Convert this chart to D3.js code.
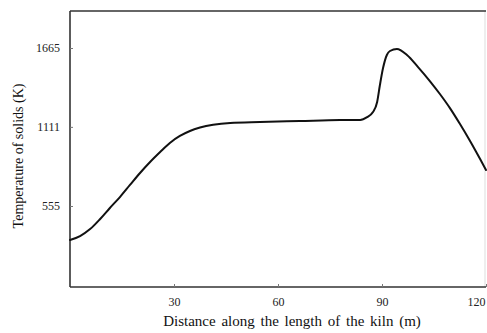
<!DOCTYPE html>
<html>
<head>
<meta charset="utf-8">
<script src="https://cdn.jsdelivr.net/npm/d3@7"></script>
<style>
  html, body { margin: 0; padding: 0; background: #fff; }
  svg { display: block; font-family: "Liberation Serif", "Times New Roman", serif; }
</style>
</head>
<body>
<svg id="chart" width="487" height="333"></svg>
<script>
// Solids temperature profile along the kiln
const distance = [0, 2.9, 5.8, 8.7, 11.5, 14.4, 17.3, 20.2, 23.1, 26.0, 28.8, 31.7, 34.6, 37.5, 46.2, 54.8, 66.3, 77.9, 83.7, 85.7, 87.4, 88.6, 89.4, 90.3, 91.4, 92.3, 94.3, 97.2, 100.4, 103.8, 106.7, 109.6, 112.5, 115.4, 118.3, 120];
const temperature = [316, 344, 393, 464, 541, 618, 703, 787, 864, 934, 998, 1047, 1082, 1106, 1138, 1145, 1152, 1159, 1160, 1180, 1215, 1286, 1405, 1524, 1616, 1644, 1658, 1616, 1531, 1433, 1342, 1243, 1131, 1012, 885, 808];
const xTicks = [30, 60, 90, 120];
const yTicks = [555, 1111, 1665];

const svg = d3.select("#chart");
const plot = { left: 70, right: 486, top: 11, bottom: 287 };

const x = d3.scaleLinear().domain([0, 120]).range([plot.left, plot.right]);
const y = d3.scaleLinear().domain([-14, 1925]).range([plot.bottom, plot.top]);

const frame = "#333";
const serif = "Liberation Serif, Times New Roman, serif";

// Faint right edge of the frame
svg.append("line").attr("x1", 485).attr("x2", 485).attr("y1", plot.top).attr("y2", plot.bottom)
  .attr("stroke", "#ddd").attr("stroke-width", 1);

// Axes frame: left, top, bottom
svg.append("line").attr("x1", plot.left).attr("x2", plot.left).attr("y1", plot.top).attr("y2", plot.bottom)
  .attr("stroke", frame).attr("stroke-width", 1.6);
svg.append("line").attr("x1", plot.left).attr("x2", plot.right).attr("y1", plot.top).attr("y2", plot.top)
  .attr("stroke", frame).attr("stroke-width", 1.6);
svg.append("line").attr("x1", plot.left).attr("x2", plot.right).attr("y1", plot.bottom).attr("y2", plot.bottom)
  .attr("stroke", frame).attr("stroke-width", 1.6);

// Bottom axis with inward ticks
const xAxis = d3.axisBottom(x).tickValues(xTicks).tickSize(-3).tickPadding(10).tickFormat(d3.format("d"));
const gx = svg.append("g").attr("transform", `translate(0,${plot.bottom})`).call(xAxis);
gx.attr("font-family", serif);
gx.select(".domain").remove();
gx.selectAll("line").attr("stroke", "#777");
gx.selectAll("text").attr("font-family", serif).attr("font-size", 12).attr("fill", "#222")
  .attr("text-anchor", d => d === 120 ? "end" : "middle")
  .attr("x", d => d === 120 ? -1 : 0);

// Left axis with inward ticks
const yAxis = d3.axisLeft(y).tickValues(yTicks).tickSize(-3).tickPadding(10).tickFormat(d3.format("d"));
const gy = svg.append("g").attr("transform", `translate(${plot.left},0)`).call(yAxis);
gy.attr("font-family", serif);
gy.select(".domain").remove();
gy.selectAll("line").attr("stroke", "#777");
gy.selectAll("text").attr("font-family", serif).attr("font-size", 12).attr("fill", "#222");

// Temperature curve
const pts = distance.map((d, i) => [d, temperature[i]]);
const line = d3.line().x(d => x(d[0])).y(d => y(d[1])).curve(d3.curveMonotoneX);
svg.append("path").datum(pts).attr("d", line)
  .attr("fill", "none").attr("stroke", "#111").attr("stroke-width", 2)
  .attr("stroke-linejoin", "round").attr("stroke-linecap", "round");

// Axis titles
svg.append("text").attr("x", 292).attr("y", 326).attr("text-anchor", "middle")
  .attr("font-family", serif).attr("font-size", 15).attr("fill", "#111").attr("word-spacing", 2)
  .text("Distance  along  the length  of the kiln  (m)");
svg.append("text").attr("transform", "translate(23,156) rotate(-90)").attr("text-anchor", "middle")
  .attr("font-family", serif).attr("font-size", 14).attr("fill", "#111")
  .text("Temperature  of solids  (K)");
</script>
</body>
</html>
